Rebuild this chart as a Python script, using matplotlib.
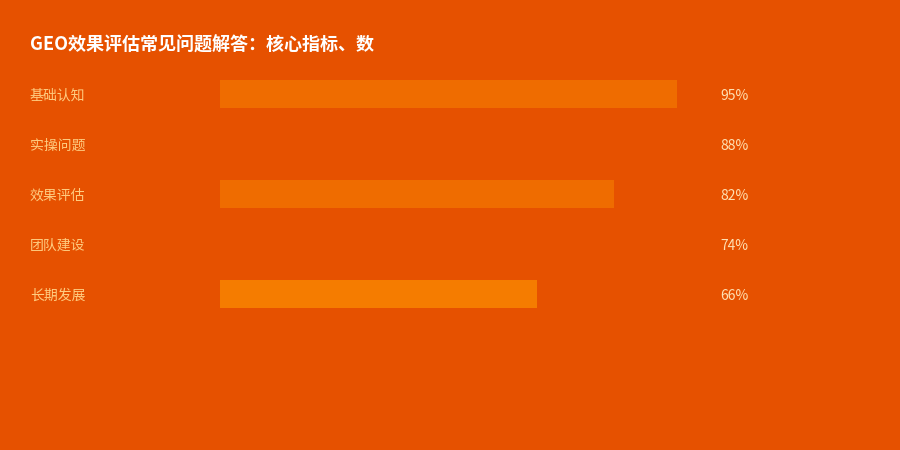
import matplotlib.pyplot as plt
import matplotlib.transforms as mtransforms

plt.rcParams['font.family'] = ['Noto Sans CJK SC', 'DejaVu Sans']

categories = ['基础认知', '实操问题', '效果评估', '团队建设', '长期发展']
values = [95, 88, 82, 74, 66]
bar_colors = ['#EF6C00', '#E65100', '#EF6C00', '#E65100', '#F57C00']
title = 'GEO效果评估常见问题解答：核心指标、数'

bg = '#E65100'

fig = plt.figure(figsize=(9, 4.5), dpi=100, facecolor=bg)

# bar track: x 220..701 px, rows 50 px apart starting at y=69 px
ax = fig.add_axes([220 / 900, 1 - 319 / 450, 481 / 900, 250 / 450])
ax.set_facecolor(bg)
ax.set_xlim(0, 100)
ax.set_ylim(len(categories) - 0.5, -0.5)
ax.axis('off')

y = list(range(len(categories)))
ax.barh(y, values, height=0.56, color=bar_colors)

# labels sit a pixel lower than the bar centre
trans = mtransforms.blended_transform_factory(fig.transFigure, ax.transData)
for i, (cat, val) in enumerate(zip(categories, values)):
    ax.text(30 / 900, i + 0.03, cat, transform=trans, ha='left', va='center',
            fontsize=10, color='#FFCC80', clip_on=False)
    ax.text(720 / 900, i + 0.03, f'{val}%', transform=trans, ha='left', va='center',
            fontsize=10, color='#FFE0B2', clip_on=False)

fig.text(30 / 900, 1 - 45 / 450, title, ha='left', va='center',
         fontsize=13, fontweight='bold', color='white')

fig.savefig('out.png', dpi=100, facecolor=bg)
